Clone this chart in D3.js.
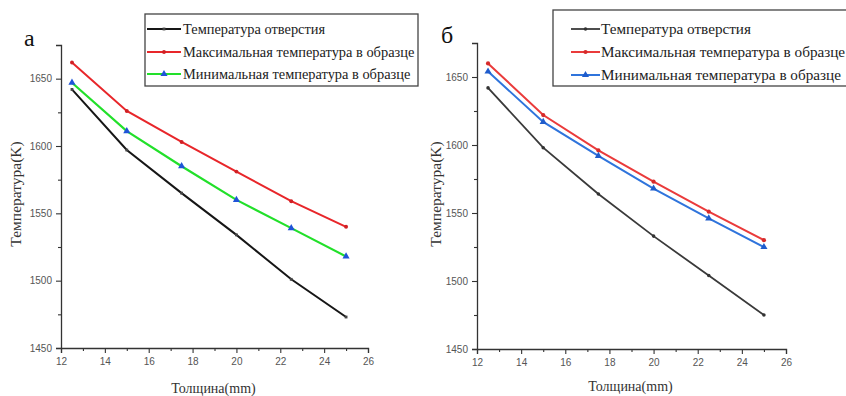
<!DOCTYPE html>
<html lang="ru">
<head>
<meta charset="UTF-8" />
<title>Температура</title>
<script src="https://cdn.jsdelivr.net/npm/d3@7/dist/d3.min.js"></script>
<style>
  body { margin: 0; background: #fff; }
  svg { display: block; }
</style>
</head>
<body>
<svg id="chart" width="846" height="396"></svg>
<script>
// thickness values (mm)
var thickness = [12.5, 15, 17.5, 20, 22.5, 25];

// panel a
var holeTempA = [1642, 1597, 1565, 1534, 1501, 1473];
var maxTempA  = [1662, 1626, 1603, 1581, 1559, 1540];
var minTempA  = [1647, 1611, 1585, 1560, 1539, 1518];

// panel б
var holeTempB = [1642, 1598, 1564, 1533, 1504, 1475];
var maxTempB  = [1660, 1622, 1596, 1573, 1551, 1530];
var minTempB  = [1654, 1617, 1592, 1568, 1546, 1525];

var seriesNames = ["Температура отверстия", "Максимальная температура в образце", "Минимальная температура в образце"];
var xTicks = [12, 14, 16, 18, 20, 22, 24, 26];
var xMinor = [13, 15, 17, 19, 21, 23, 25];
var yTicks = [1450, 1500, 1550, 1600, 1650];
var yMinor = [1475, 1525, 1575, 1625];

var svg = d3.select("#chart");
var serif = "'Liberation Serif', 'Times New Roman', 'DejaVu Serif', serif";
var sans = "'Liberation Sans', Arial, sans-serif";

function drawPanel(p) {
  var x = d3.scaleLinear().domain([12, 26]).range([p.x0, p.x1]);
  var y = d3.scaleLinear().domain([1450, 1675]).range([p.y0, p.y1]);
  var g = svg.append("g");

  // axes
  var xAxis = d3.axisBottom(x).tickValues(xTicks).tickSize(5).tickFormat(d3.format("d"));
  var yAxis = d3.axisLeft(y).tickValues(yTicks).tickSize(5).tickFormat(d3.format("d"));

  var gx = g.append("g").attr("transform", "translate(0," + p.y0 + ")").call(xAxis);
  var gy = g.append("g").attr("transform", "translate(" + p.x0 + ",0)").call(yAxis);

  g.append("g").attr("transform", "translate(0," + p.y0 + ")")
    .call(d3.axisBottom(x).tickValues(xMinor).tickSize(3).tickFormat(""))
    .select(".domain").remove();
  g.append("g").attr("transform", "translate(" + p.x0 + ",0)")
    .call(d3.axisLeft(y).tickValues(yMinor).tickSize(3).tickFormat(""))
    .select(".domain").remove();

  g.selectAll(".domain").attr("stroke", "#333").attr("stroke-width", 1.3);
  g.selectAll(".tick line").attr("stroke", "#333").attr("stroke-width", 1.1);
  gx.selectAll("text").attr("font-family", sans).attr("font-size", 10).attr("fill", "#555").attr("dy", "0.9em");
  gy.selectAll("text").attr("font-family", sans).attr("font-size", 10).attr("fill", "#555").attr("dx", "-1px");

  // axis titles
  g.append("text")
    .attr("x", (p.x0 + p.x1) / 2 - 1).attr("y", p.xTitleY)
    .attr("text-anchor", "middle")
    .attr("font-family", serif).attr("font-size", 14).attr("fill", "#333")
    .text("Толщина(mm)");
  g.append("text")
    .attr("transform", "translate(" + p.yTitleX + "," + 194 + ") rotate(-90)")
    .attr("text-anchor", "middle")
    .attr("font-family", serif).attr("font-size", 15.5).attr("fill", "#333")
    .text("Температура(K)");

  // panel letter
  g.append("text")
    .attr("x", p.letterX).attr("y", p.letterY)
    .attr("font-family", serif).attr("font-size", 24).attr("fill", "#111")
    .text(p.letter);

  // lines
  var line = d3.line().x(function(d, i) { return x(thickness[i]); }).y(function(d) { return y(d); });
  p.series.forEach(function(s) {
    g.append("path").datum(s.values)
      .attr("d", line).attr("fill", "none")
      .attr("stroke", s.color).attr("stroke-width", s.width);
    g.selectAll(null).data(s.values).enter().append("path")
      .attr("transform", function(d, i) { return "translate(" + x(thickness[i]) + "," + y(d) + ")"; })
      .attr("d", d3.symbol().type(s.symbol).size(s.size))
      .attr("fill", s.markerColor);
  });

  // legend
  var lg = g.append("g");
  lg.append("rect")
    .attr("x", p.legend.x).attr("y", p.legend.y)
    .attr("width", p.legend.w).attr("height", p.legend.h)
    .attr("fill", "#fff").attr("stroke", "#444").attr("stroke-width", 1.3);
  p.series.forEach(function(s, i) {
    var cy = p.legend.rows[i];
    lg.append("line")
      .attr("x1", p.legend.lx0).attr("x2", p.legend.lx1)
      .attr("y1", cy).attr("y2", cy)
      .attr("stroke", s.color).attr("stroke-width", s.width);
    lg.append("path")
      .attr("transform", "translate(" + ((p.legend.lx0 + p.legend.lx1) / 2) + "," + cy + ")")
      .attr("d", d3.symbol().type(s.symbol).size(s.size))
      .attr("fill", s.markerColor);
    lg.append("text")
      .attr("x", p.legend.tx).attr("y", cy + 5)
      .attr("font-family", serif).attr("font-size", p.legend.fs).attr("fill", "#222")
      .text(seriesNames[i]);
  });
}

drawPanel({
  letter: "а", letterX: 24, letterY: 46,
  x0: 61, x1: 368, y0: 348, y1: 45,
  xTitleY: 393, yTitleX: 21,
  legend: { x: 145, y: 14, w: 273, h: 72, rows: [29, 52, 74], lx0: 147, lx1: 181, tx: 183, fs: 14.4 },
  series: [
    { values: holeTempA, color: "#161616", width: 2, markerColor: "#444", symbol: d3.symbolSquare, size: 8 },
    { values: maxTempA, color: "#e8262a", width: 2, markerColor: "#d02024", symbol: d3.symbolCircle, size: 12 },
    { values: minTempA, color: "#22e02a", width: 2.2, markerColor: "#1f54d8", symbol: d3.symbolTriangle, size: 22 }
  ]
});

drawPanel({
  letter: "б", letterX: 441, letterY: 43,
  x0: 477, x1: 786, y0: 349, y1: 43,
  xTitleY: 391, yTitleX: 441,
  legend: { x: 553, y: 10, w: 300, h: 76, rows: [29, 52, 75], lx0: 571, lx1: 600, tx: 601, fs: 15.2 },
  series: [
    { values: holeTempB, color: "#3a3a3a", width: 1.8, markerColor: "#333", symbol: d3.symbolCircle, size: 10 },
    { values: maxTempB, color: "#ea3b3b", width: 2, markerColor: "#d62a2a", symbol: d3.symbolCircle, size: 14 },
    { values: minTempB, color: "#2f74dc", width: 2, markerColor: "#1f5ccc", symbol: d3.symbolTriangle, size: 22 }
  ]
});
</script>
</body>
</html>
